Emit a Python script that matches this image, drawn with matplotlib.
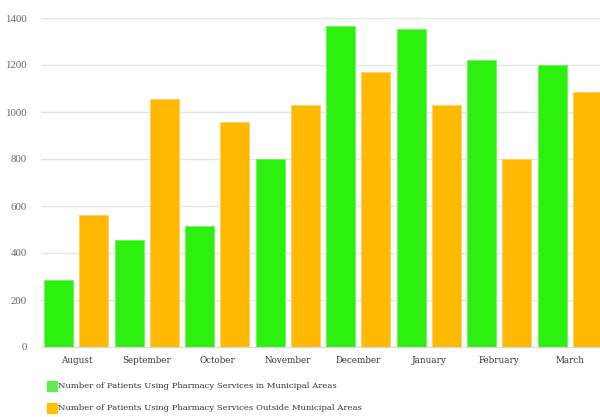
import matplotlib
matplotlib.use("Agg")
import matplotlib.pyplot as plt
import numpy as np
from matplotlib.patches import Rectangle

months = ["August", "September", "October", "November", "December",
          "January", "February", "March"]
municipal = [285, 455, 515, 800, 1365, 1355, 1220, 1198]
outside = [562, 1055, 958, 1030, 1170, 1030, 798, 1083]
series_names = ["Number of Patients Using Pharmacy Services in Municipal Areas",
                "Number of Patients Using Pharmacy Services Outside Municipal Areas"]
yticks = [0, 200, 400, 600, 800, 1000, 1200, 1400]

green = "#2ef010"
orange = "#ffb900"

fig = plt.figure(figsize=(6.0, 4.17), dpi=100)
ax = fig.add_axes([41/600, 1-347/417, 564/600, (347-18)/417])

x = np.arange(len(months))
w = 0.41
ax.bar(x - 0.25, municipal, width=w, color=green, edgecolor="#6ff55a", linewidth=0.6, zorder=3)
ax.bar(x + 0.25, outside, width=w, color=orange, edgecolor="#ffd060", linewidth=0.6, zorder=3)

ax.set_xlim(-0.5, len(months) - 0.5)
ax.set_ylim(0, 1400)
ax.set_yticks(yticks)
ax.set_yticklabels([str(v) for v in yticks], fontfamily="Liberation Serif", fontsize=7.8, color="#666666")
ax.set_xticks(x)
ax.set_xticklabels(months, fontfamily="DejaVu Serif", fontsize=6.3, color="#333333")
ax.tick_params(axis="both", length=0)
ax.tick_params(axis="y", pad=10)
ax.tick_params(axis="x", pad=6.5)
ax.grid(axis="y", color="#e1e6ea", linewidth=1, zorder=0)
for s in ["top", "right", "left"]:
    ax.spines[s].set_visible(False)
ax.spines["bottom"].set_color("#d5dadd")
ax.spines["bottom"].set_zorder(4)

legend_colors = ["#66e855", "#ffc000"]
for i, (name, c) in enumerate(zip(series_names, legend_colors)):
    yc = 1 - (386 + 22*i)/417
    fig.patches.append(Rectangle((47/600, yc - 5/417), 10/600, 10/417,
                                 transform=fig.transFigure, color=c))
    fig.text(58/600, yc, name, fontfamily="DejaVu Serif", fontsize=6.1,
             color="#333333", va="center", ha="left")

fig.savefig("out.png", dpi=100)
